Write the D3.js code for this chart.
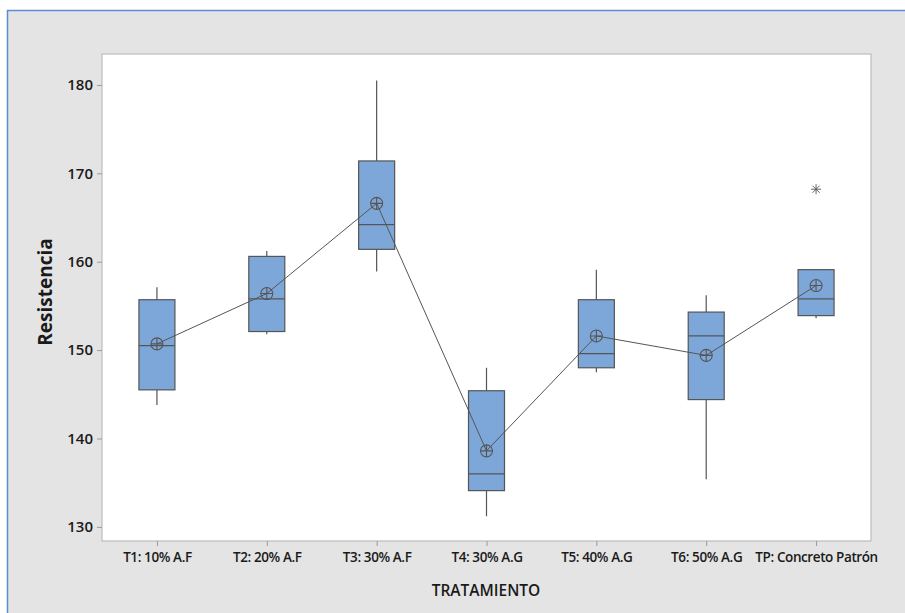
<!DOCTYPE html>
<html>
<head>
<meta charset="utf-8">
<script src="https://cdn.jsdelivr.net/npm/d3@7"></script>
<style>
  html, body { margin: 0; padding: 0; background: #ffffff; }
  svg { display: block; font-family: "Open Sans", "Noto Sans", sans-serif; }
</style>
</head>
<body>
<svg id="chart" width="905" height="613"></svg>
<script>
// Treatments and their box-plot summaries (Resistencia)
const categories = ["T1: 10% A.F", "T2: 20% A.F", "T3: 30% A.F", "T4: 30% A.G", "T5: 40% A.G", "T6: 50% A.G", "TP: Concreto Patrón"];
const whiskerLow  = [143.8, 151.8, 158.9, 131.2, 147.5, 135.4, 153.6];
const q1          = [145.5, 152.1, 161.4, 134.1, 148.0, 144.4, 153.9];
const median      = [150.5, 155.8, 164.2, 136.0, 149.6, 151.6, 155.8];
const q3          = [155.7, 160.6, 171.4, 145.4, 155.7, 154.3, 159.1];
const whiskerHigh = [157.1, 161.2, 180.5, 148.0, 159.1, 156.2, 159.1];
const mean        = [150.7, 156.4, 166.6, 138.6, 151.6, 149.4, 157.3];
const outliers    = [[6, 168.2]]; // [category index, value]
const yTicks = [130, 140, 150, 160, 170, 180];

const svg = d3.select("#chart");
const W = 905, H = 613;

// Frame background
svg.append("rect").attr("x", 0).attr("y", 0).attr("width", W).attr("height", H).attr("fill", "#ffffff");
svg.append("rect").attr("x", 7).attr("y", 10).attr("width", W - 7).attr("height", H - 10).attr("fill", "#e4e4e4");
svg.append("line").attr("x1", 7).attr("x2", W).attr("y1", 10.5).attr("y2", 10.5).attr("stroke", "#5b8bd6").attr("stroke-width", 1.5);
svg.append("line").attr("x1", 7.5).attr("x2", 7.5).attr("y1", 10).attr("y2", H).attr("stroke", "#5b8bd6").attr("stroke-width", 1.5);

const plot = { left: 102, top: 54, right: 871, bottom: 541 };

const x = d3.scalePoint().domain(categories).range([plot.left, plot.right]).padding(0.5);
const y = d3.scaleLinear().domain([128.4, 183.5]).range([plot.bottom, plot.top]);

// Plot area
svg.append("rect")
  .attr("x", plot.left).attr("y", plot.top)
  .attr("width", plot.right - plot.left).attr("height", plot.bottom - plot.top)
  .attr("fill", "#ffffff").attr("stroke", "#bdbdbd").attr("stroke-width", 1.2);

// Axes
const yAxis = svg.append("g").attr("transform", `translate(${plot.left},0)`)
  .call(d3.axisLeft(y).tickValues(yTicks).tickSize(5).tickPadding(4));
yAxis.select(".domain").remove();
yAxis.selectAll(".tick line").attr("stroke", "#9a9a9a");
yAxis.selectAll(".tick text").attr("font-size", 15).attr("font-weight", 600).attr("fill", "#1a1a1a")
  .attr("font-family", "'Open Sans', sans-serif");

const xAxis = svg.append("g").attr("transform", `translate(0,${plot.bottom})`)
  .call(d3.axisBottom(x).tickSize(5).tickPadding(6));
xAxis.select(".domain").remove();
xAxis.selectAll(".tick line").attr("stroke", "#9a9a9a");
xAxis.selectAll(".tick text").attr("font-size", 13.5).attr("font-weight", 600).attr("fill", "#1a1a1a")
  .attr("font-family", "'Open Sans', sans-serif").attr("letter-spacing", "-0.4px");

// Axis titles
svg.append("text").attr("x", 486).attr("y", 596).attr("text-anchor", "middle")
  .attr("font-size", 15.5).attr("font-weight", 600).attr("fill", "#1a1a1a").text("TRATAMIENTO");
svg.append("text").attr("transform", "translate(52,292) rotate(-90)").attr("text-anchor", "middle")
  .attr("font-size", 19).attr("font-weight", 700).attr("fill", "#1a1a1a").text("Resistencia");

// Boxes
const boxW = 36;
const stroke = "#555555";
const g = svg.append("g");
categories.forEach((c, i) => {
  const cx = x(c);
  g.append("line").attr("x1", cx).attr("x2", cx).attr("y1", y(q3[i])).attr("y2", y(whiskerHigh[i]))
    .attr("stroke", stroke).attr("stroke-width", 1.2);
  g.append("line").attr("x1", cx).attr("x2", cx).attr("y1", y(q1[i])).attr("y2", y(whiskerLow[i]))
    .attr("stroke", stroke).attr("stroke-width", 1.2);
  g.append("rect").attr("x", cx - boxW / 2).attr("y", y(q3[i]))
    .attr("width", boxW).attr("height", y(q1[i]) - y(q3[i]))
    .attr("fill", "#7da7d9").attr("stroke", stroke).attr("stroke-width", 1.2);
  g.append("line").attr("x1", cx - boxW / 2).attr("x2", cx + boxW / 2)
    .attr("y1", y(median[i])).attr("y2", y(median[i]))
    .attr("stroke", stroke).attr("stroke-width", 1.2);
});

// Line joining the means
svg.append("path")
  .datum(mean)
  .attr("d", d3.line().x((d, i) => x(categories[i])).y(d => y(d)))
  .attr("fill", "none").attr("stroke", stroke).attr("stroke-width", 1);

// Mean symbols (circle with cross)
const r = 6;
mean.forEach((m, i) => {
  const cx = x(categories[i]), cy = y(m);
  svg.append("circle").attr("cx", cx).attr("cy", cy).attr("r", r)
    .attr("fill", "none").attr("stroke", stroke).attr("stroke-width", 1.1);
  svg.append("path").attr("d", `M${cx - r},${cy}H${cx + r}M${cx},${cy - r}V${cy + r}`)
    .attr("stroke", stroke).attr("stroke-width", 1.1);
});

// Outliers (asterisk)
outliers.forEach(([i, v]) => {
  const cx = x(categories[i]), cy = y(v), s = 5;
  const d = [0, 45, 90, 135].map(a => {
    const t = a * Math.PI / 180;
    return `M${cx - s * Math.cos(t)},${cy - s * Math.sin(t)}L${cx + s * Math.cos(t)},${cy + s * Math.sin(t)}`;
  }).join("");
  svg.append("path").attr("d", d).attr("stroke", stroke).attr("stroke-width", 0.9).attr("fill", "none");
});
</script>
</body>
</html>
